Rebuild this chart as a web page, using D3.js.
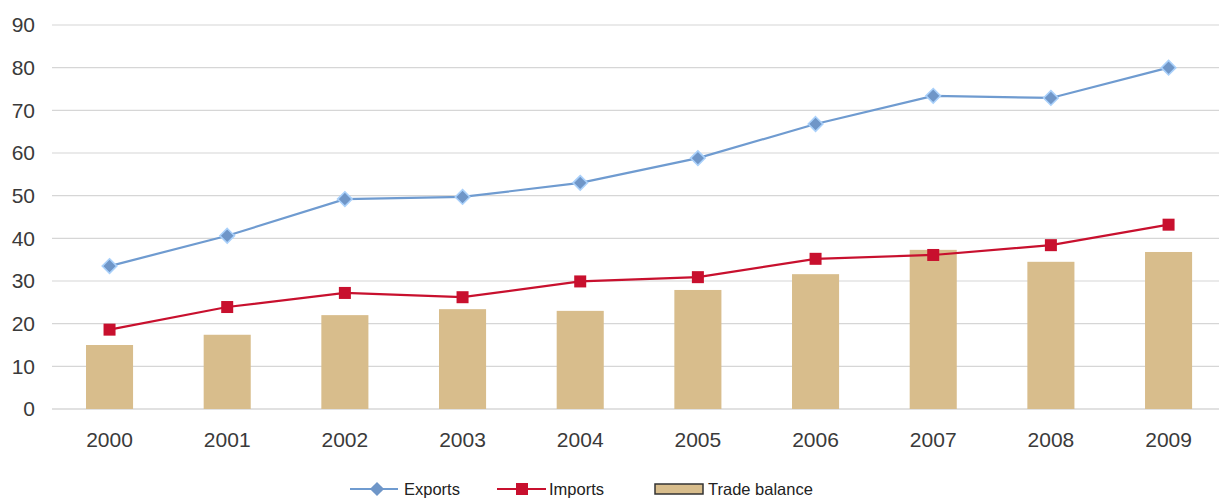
<!DOCTYPE html>
<html><head><meta charset="utf-8">
<script src="https://cdn.jsdelivr.net/npm/d3@7"></script>
<style>body{margin:0;background:#fff;}svg{display:block;}</style>
</head><body>
<svg id="c" width="1219" height="498"></svg>
<script>
const years = ["2000","2001","2002","2003","2004","2005","2006","2007","2008","2009"];
const exportsV = [33.5, 40.6, 49.2, 49.7, 53.0, 58.8, 66.8, 73.4, 72.9, 80.0];
const importsV = [18.6, 23.9, 27.2, 26.2, 29.9, 30.9, 35.2, 36.1, 38.4, 43.2];
const balanceV = [15.0, 17.4, 22.0, 23.4, 23.0, 27.9, 31.6, 37.3, 34.5, 36.8];
const yTicks = [0,10,20,30,40,50,60,70,80,90];

const svg = d3.select("#c");
const x = d3.scaleBand().domain(years).range([50.7, 1227.4]).paddingInner(0.6).paddingOuter(0.3);
const y = d3.scaleLinear().domain([0,90]).range([409, 25]);
const xc = d => x(d) + x.bandwidth()/2;

// gridlines
svg.append("g").selectAll("line").data(yTicks).join("line")
  .attr("x1", 52).attr("x2", 1219).attr("y1", d=>y(d)).attr("y2", d=>y(d))
  .attr("stroke", d => d===0 ? "#c4c4c4" : "#d6d6d6").attr("stroke-width", 1.2);

// y labels
svg.append("g").selectAll("text").data(yTicks).join("text")
  .attr("x", 35).attr("y", d=>y(d)).attr("dy", "0.35em").attr("text-anchor","end")
  .attr("font-family","Liberation Sans, Arial, sans-serif").attr("font-size", 21).attr("fill","#3a3a3a")
  .text(d=>d);

// x labels
svg.append("g").selectAll("text").data(years).join("text")
  .attr("x", d=>xc(d)).attr("y", 440).attr("dy","0.35em").attr("text-anchor","middle")
  .attr("font-family","Liberation Sans, Arial, sans-serif").attr("font-size", 21).attr("fill","#3a3a3a")
  .text(d=>d);

// bars
svg.append("g").selectAll("rect").data(years).join("rect")
  .attr("x", d=>x(d)).attr("width", x.bandwidth())
  .attr("y", (d,i)=>y(balanceV[i])).attr("height", (d,i)=>y(0)-y(balanceV[i]))
  .attr("fill", "#d8bd8c");

const line = d3.line().x((d,i)=>xc(years[i])).y(d=>y(d));
// exports
svg.append("path").datum(exportsV).attr("d", line).attr("fill","none")
  .attr("stroke","#6f9bd0").attr("stroke-width",2.2);
svg.append("g").selectAll("path").data(exportsV).join("path")
  .attr("d", d3.symbol(d3.symbolDiamond2 || d3.symbolSquare, 135)())
  .attr("transform",(d,i)=>`translate(${xc(years[i])},${y(d)}) rotate(${d3.symbolDiamond2?0:45})`)
  .attr("fill","#6f96c8").attr("stroke","#a9d0fa").attr("stroke-width",1.6);
// imports
svg.append("path").datum(importsV).attr("d", line).attr("fill","none")
  .attr("stroke","#c8102e").attr("stroke-width",2.2);
svg.append("g").selectAll("rect").data(importsV).join("rect")
  .attr("x",(d,i)=>xc(years[i])-6).attr("y",d=>y(d)-6).attr("width",12).attr("height",12)
  .attr("fill","#c8102e");

// legend
const lg = svg.append("g").attr("font-family","Liberation Sans, Arial, sans-serif").attr("font-size",16.5).attr("fill","#222");
lg.append("line").attr("x1",350).attr("x2",398).attr("y1",489).attr("y2",489).attr("stroke","#6f9bd0").attr("stroke-width",2);
lg.append("rect").attr("x",-5).attr("y",-5).attr("width",10).attr("height",10)
  .attr("transform","translate(377,489) rotate(45)").attr("fill","#6f96c8");
lg.append("text").attr("x",404).attr("y",489).attr("dy","0.35em").text("Exports");
lg.append("line").attr("x1",497).attr("x2",546).attr("y1",489).attr("y2",489).attr("stroke","#c8102e").attr("stroke-width",2);
lg.append("rect").attr("x",516).attr("y",483).attr("width",12).attr("height",12).attr("fill","#c8102e");
lg.append("text").attr("x",549).attr("y",489).attr("dy","0.35em").text("Imports");
lg.append("rect").attr("x",655).attr("y",484).attr("width",48).attr("height",10).attr("fill","#d8bd8c").attr("stroke","#333").attr("stroke-width",1.5);
lg.append("text").attr("x",708).attr("y",489).attr("dy","0.35em").text("Trade balance");
</script>
</body></html>
